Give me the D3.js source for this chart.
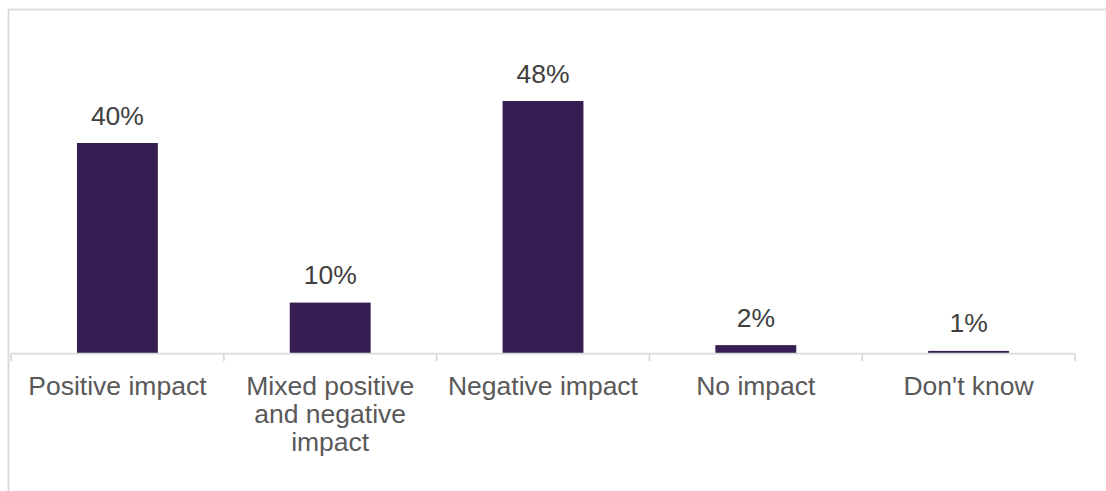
<!DOCTYPE html>
<html>
<head>
<meta charset="utf-8">
<script src="https://cdn.jsdelivr.net/npm/d3@7"></script>
<style>
  html, body { margin: 0; padding: 0; background: #ffffff; }
  svg { display: block; }
  text { font-family: "Liberation Sans", Arial, sans-serif; }
</style>
</head>
<body>
<svg id="chart" width="1106" height="491"></svg>
<script>
// Data
const categories = ["Positive impact", "Mixed positive and negative impact", "Negative impact", "No impact", "Don't know"];
const values = [40, 9.6, 48, 1.5, 0.4];
const valueLabels = ["40%", "10%", "48%", "2%", "1%"];

const W = 1106, H = 491;
const svg = d3.select("#chart");

// outer chart border
svg.append("rect")
  .attr("x", 8.5).attr("y", 9.5)
  .attr("width", W + 20).attr("height", H + 20)
  .attr("fill", "none")
  .attr("stroke", "#d9d9d9")
  .attr("stroke-width", 1.75);

const x = d3.scaleBand()
  .domain(categories)
  .range([11, 1075])
  .paddingInner(0.62)
  .paddingOuter(0.31);

const y = d3.scaleLinear()
  .domain([0, 50])
  .range([353, 90.5]);

// bars
svg.append("g").selectAll("rect")
  .data(categories)
  .join("rect")
  .attr("x", d => x(d))
  .attr("width", x.bandwidth())
  .attr("y", (d, i) => y(values[i]))
  .attr("height", (d, i) => y(0) - y(values[i]))
  .attr("fill", "#371e52");

// value labels
svg.append("g").selectAll("text")
  .data(categories)
  .join("text")
  .attr("x", d => x(d) + x.bandwidth() / 2)
  .attr("y", (d, i) => y(values[i]) - 18.5)
  .attr("text-anchor", "middle")
  .attr("font-size", 26.5)
  .attr("fill", "#404040")
  .text((d, i) => valueLabels[i]);

// x axis
const step = x.step();
const x0 = 11;
const axisG = svg.append("g");
axisG.append("line")
  .attr("x1", x0).attr("x2", 1075)
  .attr("y1", 353.5).attr("y2", 353.5)
  .attr("stroke", "#d9d9d9").attr("stroke-width", 1.75);
const tickPos = d3.range(categories.length + 1).map(i => x0 + i * step);
axisG.selectAll("line.tick")
  .data(tickPos)
  .join("line")
  .attr("class", "tick")
  .attr("x1", d => d).attr("x2", d => d)
  .attr("y1", 353.5).attr("y2", 361)
  .attr("stroke", "#d9d9d9").attr("stroke-width", 1.75);

// category labels with wrapping
const catG = svg.append("g");
const baseY = 394.5;
categories.forEach((c, i) => {
  const cx = x(c) + x.bandwidth() / 2;
  const t = catG.append("text")
    .attr("x", cx)
    .attr("y", baseY)
    .attr("text-anchor", "middle")
    .attr("font-size", 26.5)
    .attr("fill", "#595959");
  const words = c.split(" ");
  let line = [];
  let lineNo = 0;
  let tspan = t.append("tspan").attr("x", cx).attr("y", baseY);
  const maxW = 198;
  words.forEach(w => {
    line.push(w);
    tspan.text(line.join(" "));
    if (tspan.node().getComputedTextLength() > maxW && line.length > 1) {
      line.pop();
      tspan.text(line.join(" "));
      line = [w];
      lineNo++;
      tspan = t.append("tspan").attr("x", cx).attr("y", baseY + lineNo * 28).text(w);
    }
  });
});
</script>
</body>
</html>
